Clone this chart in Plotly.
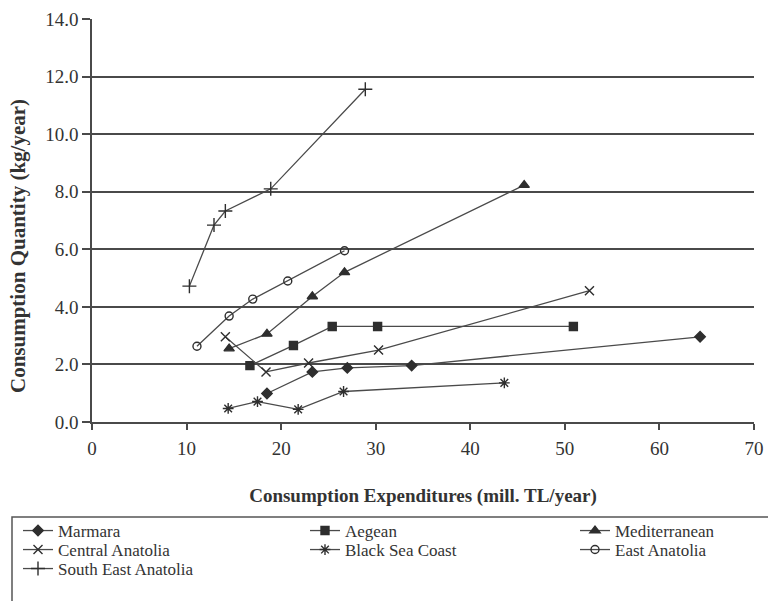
import plotly.graph_objects as go

# ---- data ----
marmara_x = [18.5, 23.3, 27.0, 33.8, 64.3]
marmara_y = [0.99, 1.74, 1.88, 1.96, 2.96]

aegean_x = [16.7, 21.3, 25.4, 30.2, 50.9]
aegean_y = [1.96, 2.66, 3.32, 3.32, 3.32]

mediterranean_x = [14.5, 18.5, 23.3, 26.7, 45.7]
mediterranean_y = [2.55, 3.06, 4.36, 5.20, 8.23]

central_x = [14.1, 18.4, 22.9, 30.3, 52.6]
central_y = [2.96, 1.74, 2.05, 2.50, 4.56]

blacksea_x = [14.4, 17.5, 21.8, 26.6, 43.6]
blacksea_y = [0.47, 0.71, 0.44, 1.06, 1.36]

east_x = [11.1, 14.5, 17.0, 20.7, 26.7]
east_y = [2.63, 3.68, 4.27, 4.90, 5.95]

southeast_x = [10.3, 12.9, 14.1, 18.9, 28.9]
southeast_y = [4.72, 6.84, 7.33, 8.10, 11.56]

x_ticks = [0, 10, 20, 30, 40, 50, 60, 70]
y_ticks = [0, 2, 4, 6, 8, 10, 12, 14]
grid_ticks = [2, 4, 6, 8, 10, 12]

# ---- layout geometry ----
W, H = 768, 601
L, R, T, B = 92, 14, 19, 179
PW, PH = W - L - R, H - T - B


def px_x(px):
    return (px - L) / PW


def px_y(py):
    return (H - B - py) / PH


LINE = "#4a4a4a"
MK = "#2e2e2e"
TXT = "#333333"
FONT = "Liberation Serif"

# legend cell for each series: (left px of legend, row centre px)
COLS = [18, 305, 575]
ROWS = [531, 550, 569]

series = [
    ("Marmara", marmara_x, marmara_y, "diamond", 8, 0, 0),
    ("Aegean", aegean_x, aegean_y, "square", 8, 1, 0),
    ("Mediterranean", mediterranean_x, mediterranean_y, "triangle-up", 9, 2, 0),
    ("Central Anatolia", central_x, central_y, "x-thin-open", 9, 0, 1),
    ("Black Sea Coast", blacksea_x, blacksea_y, "asterisk-open", 9, 1, 1),
    ("East Anatolia", east_x, east_y, "circle-open", 8, 2, 1),
    ("South East Anatolia", southeast_x, southeast_y, "cross-thin-open", 10, 0, 2),
]

fig = go.Figure()
# empty helper trace so that the grid-only axis is drawn
fig.add_trace(go.Scatter(x=[None], y=[None], yaxis="y2", showlegend=False,
                         hoverinfo="skip"))

legend_layouts = {}
for i, (name, xs, ys, sym, size, col, row) in enumerate(series):
    leg = "legend" if i == 0 else f"legend{i + 1}"
    fig.add_trace(go.Scatter(
        x=xs, y=ys, name=name, mode="lines+markers",
        line=dict(color=LINE, width=1.3),
        marker=dict(symbol=sym, size=size, color=MK,
                    line=dict(color=MK, width=1.4)),
        legend=leg,
    ))
    legend_layouts[leg] = dict(
        x=px_x(COLS[col]), y=px_y(ROWS[row]),
        xanchor="left", yanchor="middle",
        font=dict(family=FONT, size=17, color=TXT),
        bgcolor="rgba(0,0,0,0)", borderwidth=0,
        orientation="v", itemwidth=30,
    )

fig.update_layout(**legend_layouts)

fig.update_layout(
    width=W, height=H,
    margin=dict(l=L, r=R, t=T, b=B, autoexpand=False),
    paper_bgcolor="white", plot_bgcolor="white",
    font=dict(family=FONT, color=TXT),
    xaxis=dict(
        range=[0, 70], tickvals=x_ticks, showgrid=False, zeroline=False,
        showline=True, linecolor=LINE, linewidth=1.5,
        ticks="outside", ticklen=6, tickwidth=1.5, tickcolor=LINE,
        tickfont=dict(family=FONT, size=19, color=TXT),
        ticklabelstandoff=2,
        title=dict(text="<b>Consumption Expenditures (mill. TL/year)</b>",
                   font=dict(family=FONT, size=19, color=TXT), standoff=31),
    ),
    yaxis=dict(
        range=[0, 14], tickvals=y_ticks, tickformat=".1f",
        showgrid=False, zeroline=False,
        showline=True, linecolor=LINE, linewidth=1.5,
        ticks="outside", ticklen=8, tickwidth=1.5, tickcolor=LINE,
        tickfont=dict(family=FONT, size=19, color=TXT),
        ticklabelstandoff=0,
    ),
    yaxis2=dict(
        range=[0, 14], tickvals=grid_ticks, overlaying="y", side="left",
        showgrid=True, gridcolor=LINE, gridwidth=1.5,
        showticklabels=False, ticks="", showline=False, zeroline=False,
        layer="below traces",
    ),
    annotations=[dict(
        text="<b>Consumption Quantity (kg/year)</b>",
        xref="paper", yref="paper", x=px_x(18), y=px_y(246),
        xanchor="center", yanchor="middle", textangle=-90, showarrow=False,
        font=dict(family=FONT, size=21, color=TXT),
    )],
    shapes=[dict(
        type="rect", xref="paper", yref="paper",
        x0=px_x(12), x1=px_x(790), y0=px_y(517), y1=px_y(640),
        line=dict(color="#555555", width=1.5), fillcolor="rgba(0,0,0,0)",
    )],
)

fig.write_html("out.html", config={"displayModeBar": False},
               post_script="document.body.style.margin='0px';")
